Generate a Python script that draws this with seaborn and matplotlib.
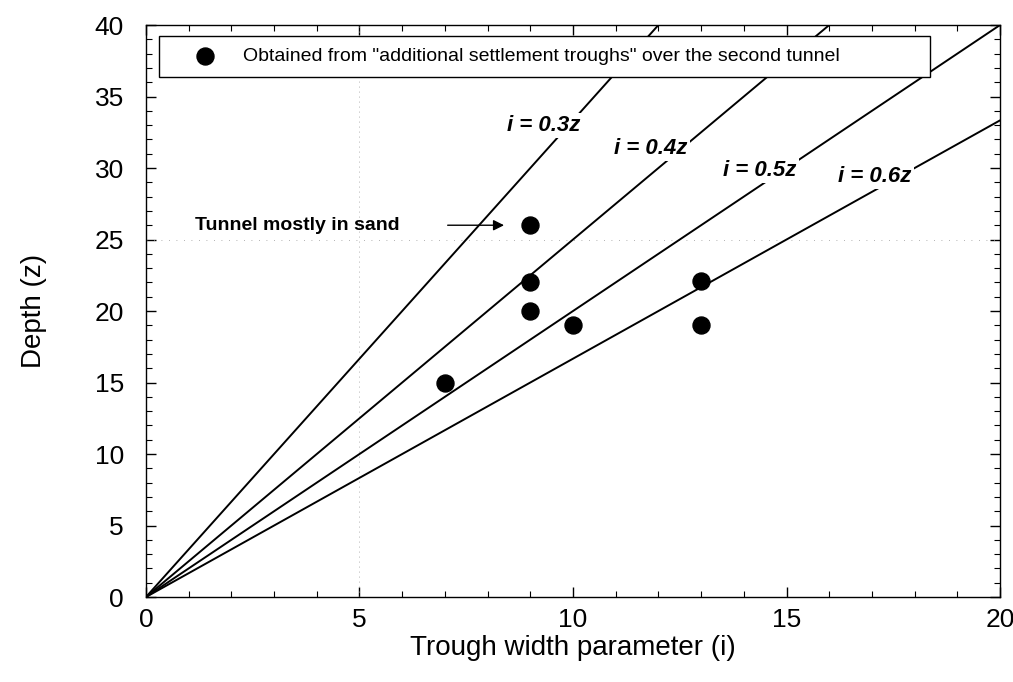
import numpy as np
import pandas as pd
import matplotlib
matplotlib.use("Agg")
import matplotlib.pyplot as plt
import seaborn as sns
from matplotlib.ticker import MultipleLocator

# data
trough_width = [7, 9, 9, 9, 10, 13, 13]
depth = [15, 26, 22, 20, 19, 22.1, 19]
ratios = [0.3, 0.4, 0.5, 0.6]
ratio_labels = ["i = 0.3z", "i = 0.4z", "i = 0.5z", "i = 0.6z"]
label_pos_x = [9.32, 11.83, 14.38, 17.07]
label_pos_y = [33.0, 31.4, 29.8, 29.4]
legend_text = 'Obtained from "additional settlement troughs" over the second tunnel'
annot_text = "Tunnel mostly in sand"

sns.set_theme(style="ticks")
plt.rcParams['font.family'] = ['Liberation Sans', 'DejaVu Sans']
plt.rcParams.update({"text.color": "black", "axes.labelcolor": "black",
                     "xtick.color": "black", "ytick.color": "black",
                     "axes.edgecolor": "black"})

fig = plt.figure(figsize=(10.13, 6.82), dpi=100)
ax = fig.add_axes([0.1441, 0.1246, 0.8431, 0.8387])

# i = k z lines
rows = []
for k in ratios:
    zmax = 40.0
    imax = min(20.0, k * zmax)
    zend = imax / k
    rows.append({"i": 0.0, "z": 0.0, "k": str(k)})
    rows.append({"i": imax, "z": zend, "k": str(k)})
lines_df = pd.DataFrame(rows)
sns.lineplot(data=lines_df, x="i", y="z", units="k", estimator=None,
             color="black", lw=1.4, ax=ax, zorder=2, legend=False)

ax.axvline(5, color="#999999", lw=0.6, ls=(0, (1, 5)), zorder=1)
ax.axhline(25, color="#999999", lw=0.6, ls=(0, (1, 8)), zorder=1)

pts = pd.DataFrame({"i": trough_width, "z": depth})
sns.scatterplot(data=pts, x="i", y="z", color="black", s=150, edgecolor="black",
                ax=ax, zorder=4, label=legend_text)

for t, x, y in zip(ratio_labels, label_pos_x, label_pos_y):
    ax.text(x, y, t, fontsize=16, fontweight="bold", fontstyle="italic",
            ha="center", va="center", zorder=3, color="black",
            bbox=dict(facecolor="white", edgecolor="none", pad=1.5))

ax.text(1.15, 26.0, annot_text, fontsize=14, fontweight="bold", ha="left",
        va="center", color="black")
ax.annotate("", xy=(8.45, 26.0), xytext=(7.0, 26.0),
            arrowprops=dict(arrowstyle="-|>", color="black", lw=1, mutation_scale=16))

ax.set_xlim(0, 20)
ax.set_ylim(0, 40)
ax.xaxis.set_major_locator(MultipleLocator(5))
ax.yaxis.set_major_locator(MultipleLocator(5))
ax.xaxis.set_minor_locator(MultipleLocator(1))
ax.yaxis.set_minor_locator(MultipleLocator(1))
ax.tick_params(which="both", direction="in", top=True, right=True, color="black",
               labelcolor="black")
ax.tick_params(which="major", length=7, width=1, labelsize=19)
ax.tick_params(axis="x", which="major", pad=8)
ax.tick_params(axis="y", which="major", pad=16)
ax.tick_params(which="minor", length=4, width=0.8)
for s in ax.spines.values():
    s.set_color("black")
    s.set_linewidth(1)

ax.set_xlabel("Trough width parameter (i)", fontsize=20, labelpad=2, color="black")
ax.set_ylabel("Depth (z)", fontsize=20, labelpad=34, color="black")

leg = ax.legend(loc="upper left", bbox_to_anchor=(0.0152, 0.911, 0.903, 0.07),
                mode="expand", frameon=True, fancybox=False, fontsize=14,
                handlelength=3.53, handletextpad=0.19, borderaxespad=0,
                borderpad=0.6, markerscale=1.0)
leg.get_frame().set_edgecolor("black")
leg.get_frame().set_linewidth(1)
leg.get_frame().set_alpha(1)
for txt in leg.get_texts():
    txt.set_color("black")

fig.savefig("out.png", dpi=100)
